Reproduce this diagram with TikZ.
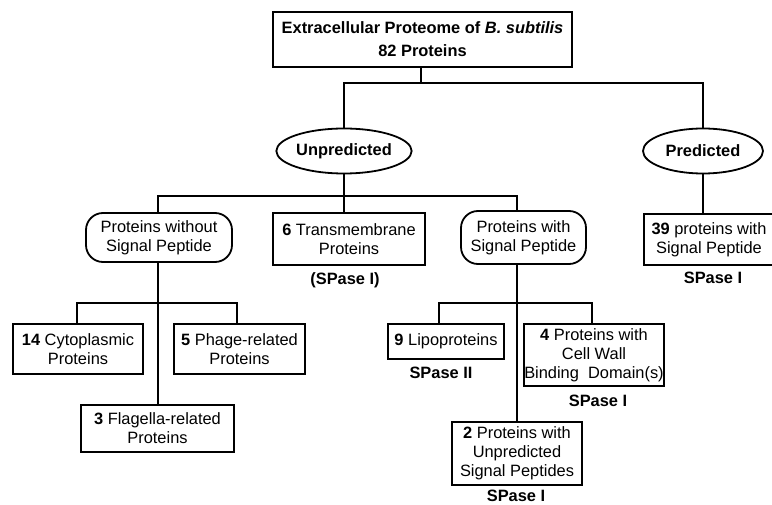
\documentclass[tikz,border=0pt]{standalone}
\usepackage{fontspec}
\setmainfont{Liberation Sans}
\usetikzlibrary{shapes.geometric}
\begin{document}
\begin{tikzpicture}[x=1pt,y=-1pt,
  every node/.style={font=\fontsize{16.4}{19}\selectfont, inner sep=0pt, align=center},
  box/.style={draw, line width=1.8pt, rectangle},
  oval/.style={draw, line width=1.8pt, ellipse},
  pill/.style={draw, line width=1.8pt, rectangle, rounded corners=17pt},
  lbl/.style={font=\fontsize{16.4}{19}\selectfont\bfseries},
  con/.style={line width=1.8pt}]
\useasboundingbox (0,0) rectangle (772,505);

% nodes
\node[box, minimum width=299pt, minimum height=55pt, font=\fontsize{16.4}{23}\selectfont\bfseries] (top) at (422.5,39.5)
  {Extracellular Proteome of \textit{B. subtilis}\\82 Proteins};
\node[oval, minimum width=114pt, minimum height=45pt, font=\fontsize{16.4}{19}\selectfont\bfseries] (unp) at (344,151) {Unpredicted};
\node[oval, minimum width=120pt, minimum height=45pt, font=\fontsize{16.4}{19}\selectfont\bfseries] (pred) at (703,151) {Predicted};

\node[pill, minimum width=146pt, minimum height=49pt] (nosp) at (159,237.5) {Proteins without\\Signal Peptide};
\node[box, minimum width=152pt, minimum height=52pt] (tm) at (349,239) {\textbf{6} Transmembrane\\Proteins};
\node[pill, minimum width=125pt, minimum height=53pt] (wsp) at (523.5,237.5) {Proteins with\\Signal Peptide};
\node[box, minimum width=130pt, minimum height=51pt] (p39) at (709,239.5) {\textbf{39} proteins with\\Signal Peptide};

\node[box, minimum width=130pt, minimum height=50pt] (cyto) at (78,349) {\textbf{14} Cytoplasmic\\Proteins};
\node[box, minimum width=131pt, minimum height=50pt] (phage) at (239.5,349) {\textbf{5} Phage-related\\Proteins};
\node[box, minimum width=153pt, minimum height=47pt] (flag) at (157.5,428.5) {\textbf{3} Flagella-related\\Proteins};

\node[box, minimum width=116pt, minimum height=35pt] (lipo) at (446,341.5) {\textbf{9} Lipoproteins};
\node[box, minimum width=134pt, minimum height=62pt] (cw) at (594,355) {\textbf{4} Proteins with\\Cell Wall\\Binding~~Domain(s)};
\node[box, minimum width=130pt, minimum height=63pt] (two) at (517,453.5) {\textbf{2} Proteins with\\Unpredicted\\Signal Peptides};

% labels
\node[lbl] (l1) at (345,280) {(SPase I)};
\node[lbl] (l2) at (713,278) {SPase I};
\node[lbl] (l3) at (441,373) {SPase II};
\node[lbl] (l4) at (598,401) {SPase I};
\node[lbl] (l5) at (516,496) {SPase I};

% junction coordinates
\coordinate (j1) at (421,83);
\coordinate (a1) at (158,196);
\coordinate (a2) at (517,196);
\coordinate (j2) at (unp.south |- a1);
\coordinate (b1) at (77,303);
\coordinate (b2) at (237,303);
\coordinate (c1) at (439,303);
\coordinate (c2) at (592,303);

% connectors
\draw[con] (j1 |- top.south) -- (j1);
\draw[con] (unp.north) |- (j1) -| (pred.north);
\draw[con] (unp.south) -- (j2);
\draw[con] (a1 |- nosp.north) -- (a1) -- (a2) -- (a2 |- wsp.north);
\draw[con] (j2) -- (j2 |- tm.north);
\draw[con] (pred.south) -- (pred.south |- p39.north);

\draw[con] (a1 |- nosp.south) -- (a1 |- flag.north);
\draw[con] (b1 |- cyto.north) -- (b1) -- (b2) -- (b2 |- phage.north);

\draw[con] (a2 |- wsp.south) -- (a2 |- two.north);
\draw[con] (c1 |- lipo.north) -- (c1) -- (c2) -- (c2 |- cw.north);
\end{tikzpicture}
\end{document}
